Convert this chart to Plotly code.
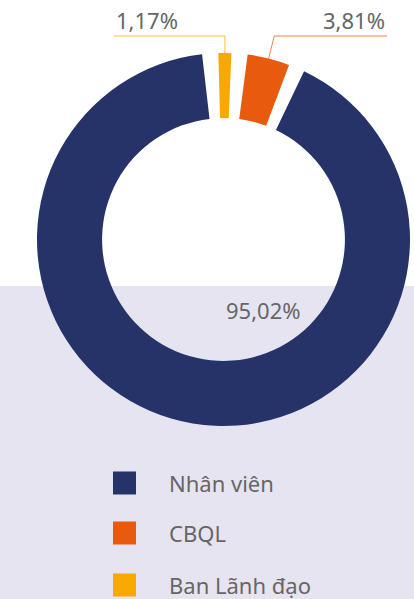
import math
import plotly.graph_objects as go

# ---- data ----
categories = ["Nhân viên", "CBQL", "Ban Lãnh đạo"]
shares = [95.02, 3.81, 1.17]
colors = ["#253368", "#E85B0E", "#F8A900"]

# ---- layout constants ----
W, H = 414, 599
CX, CY, R = 223.5, 239.5, 186.5
HOLE = 0.651
GAP = 1.45          # transparent spacer between slices
ROTATION = -1.6
BAND_TOP = 286
BAND_COLOR = "#E6E4F0"
TEXT_COLOR = "#666666"
FONT = "Noto Sans"
FS = 22


def px(x):
    return x / W


def py(y):
    return 1 - y / H


def fmt(v):
    return f"{v:.2f}".replace(".", ",") + "%"


# pie order clockwise from 12 o'clock (reverse of legend order), with spacers
pie_labels, pie_values, pie_colors = [], [], []
for k, i in enumerate(reversed(range(len(categories)))):
    pie_labels += [categories[i], f"_gap{k}"]
    pie_values += [shares[i], GAP]
    pie_colors += [colors[i], "rgba(0,0,0,0)"]

# mid angles (clockwise from top) of each slice
total = sum(pie_values)
mid = {}
a = ROTATION
for lab, v in zip(pie_labels, pie_values):
    span = v / total * 360
    mid[lab] = a + span / 2
    a += span

fig = go.Figure(go.Pie(
    labels=pie_labels, values=pie_values,
    marker=dict(colors=pie_colors, line=dict(width=0)),
    sort=False, direction="clockwise", rotation=ROTATION, hole=HOLE,
    textinfo="none", hoverinfo="skip", showlegend=False,
    domain=dict(x=[px(CX - R), px(CX + R)], y=[py(CY + R), py(CY - R)]),
))

shapes = [dict(type="rect", xref="paper", yref="paper", x0=0, x1=1, y0=0, y1=py(BAND_TOP),
               fillcolor=BAND_COLOR, line=dict(width=0), layer="below")]
annotations = []

# outside labels with leader lines for the small slices
ELBOW_Y = 36
label_end = {categories[1]: ("right", 387), categories[2]: ("left", 114)}
for i in (1, 2):
    cat = categories[i]
    m = math.radians(mid[cat])
    ax = CX + 0.9 * R * math.sin(m)
    ay = CY - 0.9 * R * math.cos(m)
    t = (CY - ELBOW_Y) / math.cos(m)
    ex = CX + t * math.sin(m)
    side, endx = label_end[cat]
    path = f"M {px(ax)},{py(ay)} L {px(ex)},{py(ELBOW_Y)} L {px(endx)},{py(ELBOW_Y)}"
    shapes.append(dict(type="path", xref="paper", yref="paper", path=path,
                       line=dict(color=colors[i], width=1), opacity=0.75, layer="above"))
    annotations.append(dict(
        x=px(endx), y=py(20), xref="paper", yref="paper",
        xanchor="right" if side == "right" else "left", yanchor="middle",
        text=fmt(shares[i]), showarrow=False,
        font=dict(family=FONT, size=FS, color=TEXT_COLOR)))

# big slice label
annotations.append(dict(x=px(263), y=py(310), xref="paper", yref="paper",
                        xanchor="center", yanchor="middle", text=fmt(shares[0]),
                        showarrow=False, font=dict(family=FONT, size=FS, color=TEXT_COLOR)))

# custom legend
LEG_X0, LEG_SIZE, LEG_TX = 113, 23, 167
LEG_ROWS = [483, 533, 585]
for i, cat in enumerate(categories):
    yc = LEG_ROWS[i]
    shapes.append(dict(type="rect", xref="paper", yref="paper",
                       x0=px(LEG_X0), x1=px(LEG_X0 + LEG_SIZE),
                       y0=py(yc + LEG_SIZE / 2), y1=py(yc - LEG_SIZE / 2),
                       fillcolor=colors[i], line=dict(width=0)))
    annotations.append(dict(x=px(LEG_TX), y=py(yc), xref="paper", yref="paper",
                            xanchor="left", yanchor="middle", text=cat, showarrow=False,
                            font=dict(family=FONT, size=FS, color=TEXT_COLOR)))

fig.update_layout(
    width=W, height=H, margin=dict(l=0, r=0, t=0, b=0),
    paper_bgcolor="white", plot_bgcolor="white", showlegend=False,
    shapes=shapes, annotations=annotations,
)

fig.write_html("out.html")
